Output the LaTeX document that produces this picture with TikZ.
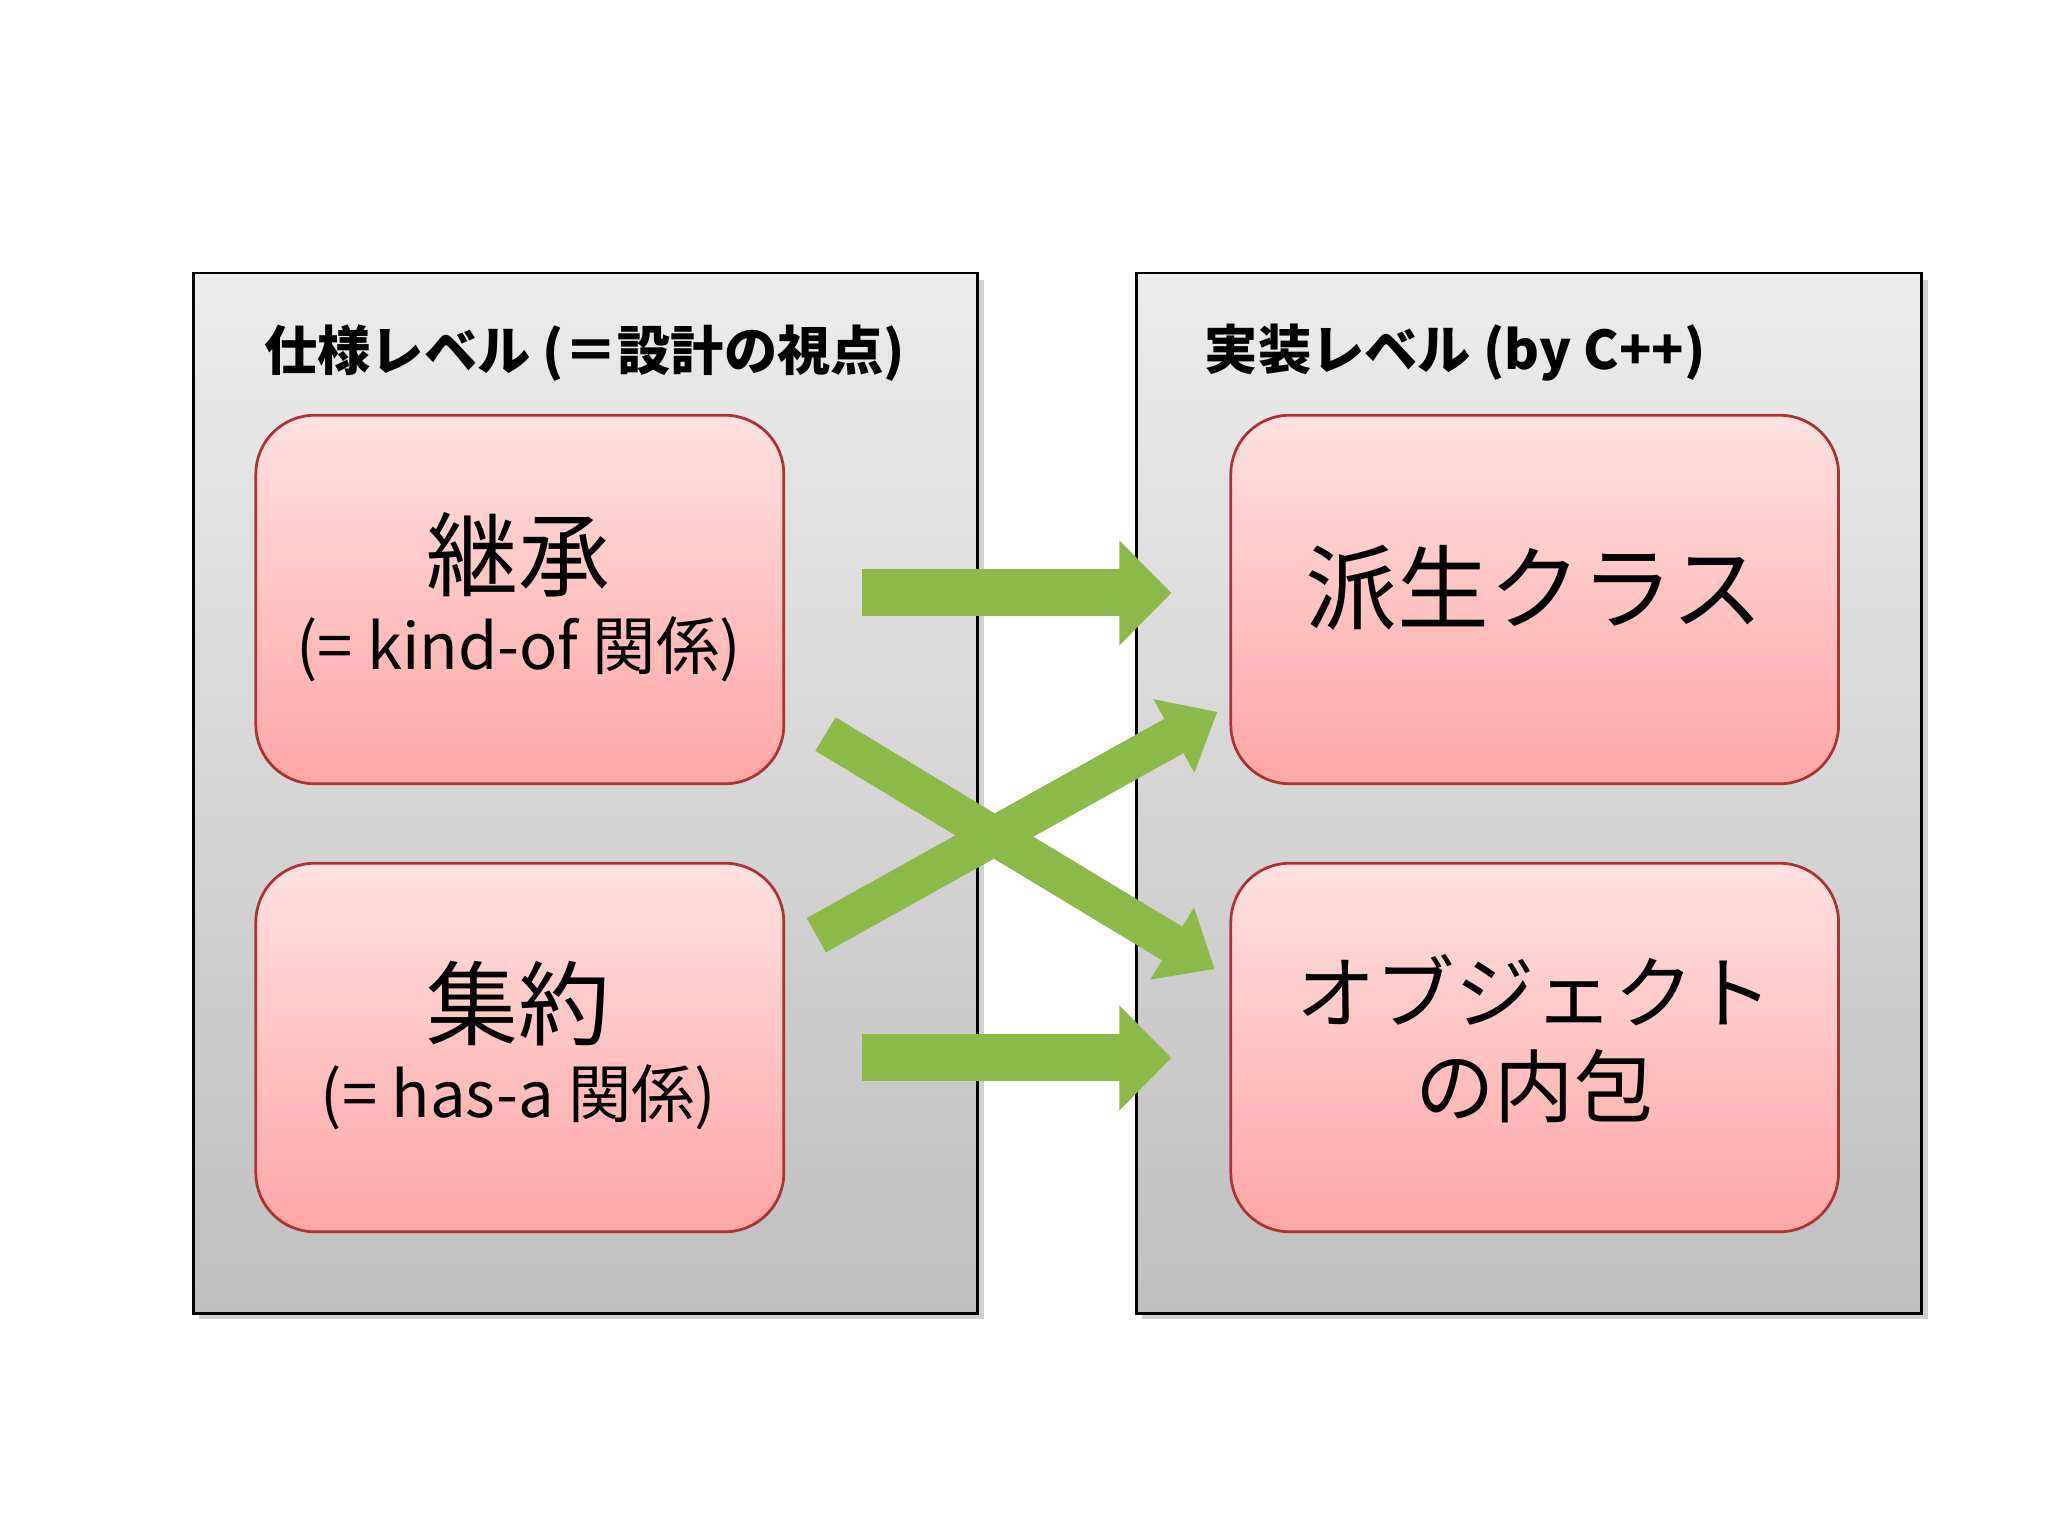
\documentclass[tikz,border=0pt]{standalone}
\usepackage{fontspec}
\setmainfont{Noto Sans CJK JP}
\usetikzlibrary{arrows.meta}
\definecolor{agreen}{RGB}{141,184,74}
\tikzset{
 panel/.style={draw=black,line width=0.6pt,top color=gray!15,bottom color=gray!50,anchor=north west},
 pbox/.style={draw=red!60!black!80,line width=0.6pt,rounded corners=0.45cm,top color=red!12,bottom color=red!35,minimum width=4.04cm,minimum height=2.82cm,align=center,inner sep=0pt},
 pboxw/.style={pbox,minimum width=4.65cm},
 garrow/.style={draw=agreen,line width=0.36cm,-{Triangle[length=0.4cm,width=0.78cm]}},
 darrow/.style={draw=agreen,line width=0.3cm,-{Triangle[length=0.38cm,width=0.62cm]}},
 ttl/.style={font=\bfseries\fontsize{11.6}{13}\selectfont,anchor=west},
}
\begin{document}
\begin{tikzpicture}[x=0.01cm,y=-0.01cm]
\useasboundingbox[fill=white] (0,0) rectangle (1568,1176);
\fill[black!18] (152,214) rectangle (753,1010);
\fill[black!18] (874,214) rectangle (1476,1010);
\node[panel,minimum width=6cm,minimum height=7.96cm] (lp) at (147,208) {};
\node[panel,minimum width=6.01cm,minimum height=7.96cm] (rp) at (869,208) {};
\node[ttl] (lt) at (190,270) {仕様レベル (＝設計の視点)};
\node[ttl] (rt) at (910,270) {実装レベル (by C++)};
\node[pbox] (a) at (398,459) {};
\node[pbox] (b) at (398,802) {};
\node[pboxw] (c) at (1175,459) {};
\node[pboxw] (d) at (1175,802) {};
\node[font=\fontsize{20}{22}\selectfont] (at) at (397,425) {継承};
\node[font=\fontsize{13.8}{15}\selectfont] (as) at (397,497) {(= kind-of 関係)};
\node[font=\fontsize{20}{22}\selectfont] (bt) at (397,768) {集約};
\node[font=\fontsize{13.8}{15}\selectfont] (bs) at (397,840) {(= has-a 関係)};
\node[font=\fontsize{20}{22}\selectfont] (ct) at (1175,450) {派生クラス};
\node[font=\fontsize{17.3}{20.5}\selectfont,align=center] (dt) at (1175,795) {オブジェクト\\の内包};
\coordinate (h1s) at (660,454); \coordinate (h1e) at (897,454);
\coordinate (h2s) at (660,810); \coordinate (h2e) at (897,810);
\coordinate (d1s) at (632,562); \coordinate (d1e) at (930,742);
\coordinate (d2s) at (625,716); \coordinate (d2e) at (932,545);
\draw[garrow] (h1s) -- (h1e);
\draw[garrow] (h2s) -- (h2e);
\draw[darrow] (d1s) -- (d1e);
\draw[darrow] (d2s) -- (d2e);
\end{tikzpicture}
\end{document}
